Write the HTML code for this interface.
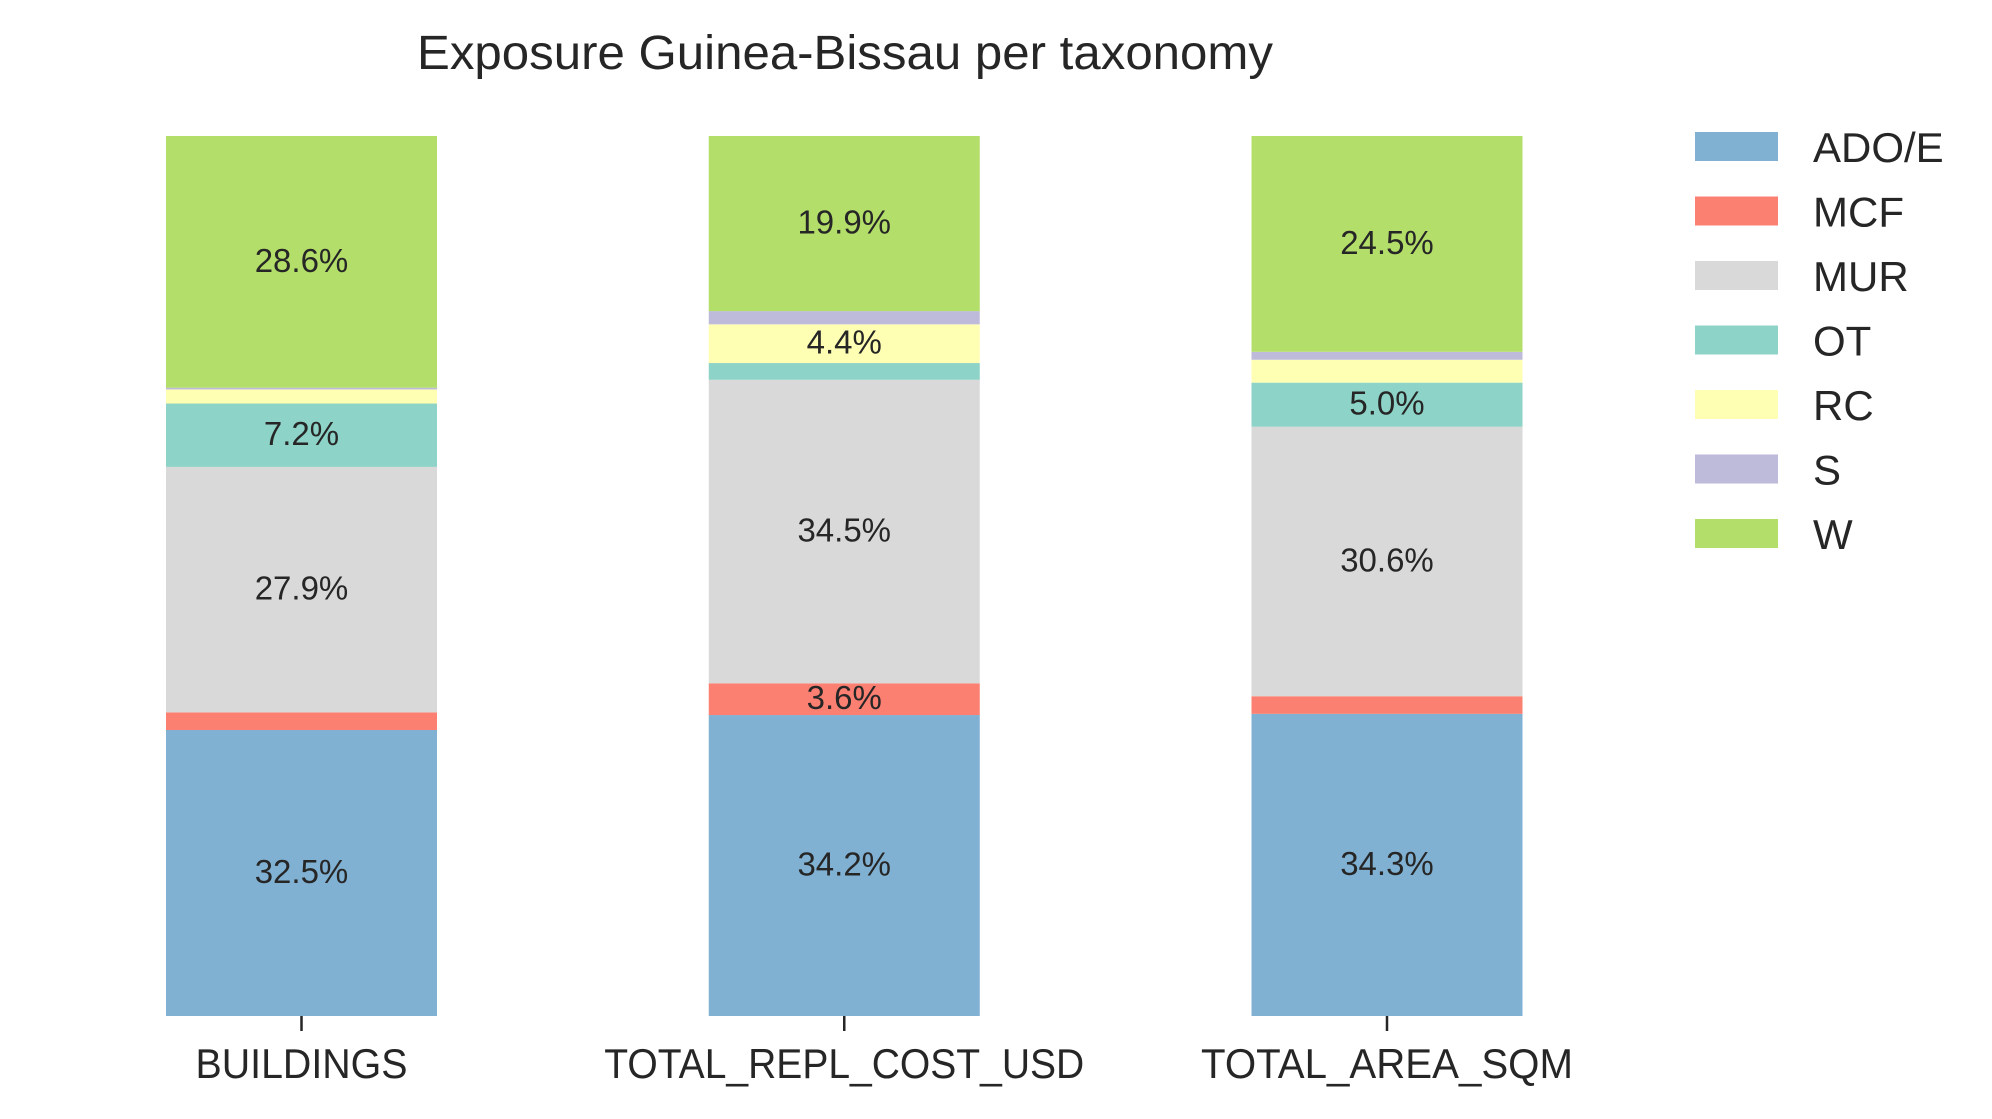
<!DOCTYPE html>
<html><head><meta charset="utf-8"><style>
html,body{margin:0;padding:0;background:#fff;}
svg{display:block;font-family:"Liberation Sans",sans-serif;}
</style></head><body>
<svg id="chart" width="1992" height="1119" viewBox="0 0 1992 1119">
<text x="845" y="69" font-size="48" fill="#262626" text-anchor="middle" textLength="856" lengthAdjust="spacingAndGlyphs">Exposure Guinea-Bissau per taxonomy</text>
<g id="bars"></g><g id="labels"></g><g id="xaxis"></g><g id="legend"></g>
</svg>
<script>
const categories = ["BUILDINGS", "TOTAL_REPL_COST_USD", "TOTAL_AREA_SQM"];
const seriesNames = ["ADO/E", "MCF", "MUR", "OT", "RC", "S", "W"];
const adoE = [32.5, 34.2, 34.3];
const mcf = [2.0, 3.6, 2.0];
const mur = [27.9, 34.5, 30.6];
const ot = [7.2, 1.9, 5.0];
const rc = [1.6, 4.4, 2.6];
const s = [0.2, 1.5, 0.9];
const w = [28.6, 19.9, 24.5];
const seriesValues = [adoE, mcf, mur, ot, rc, s, w];
const colors = ["#80b1d3", "#fb8072", "#d9d9d9", "#8dd3c7", "#ffffb3", "#bebada", "#b3de69"];
const tickLabelWidths = [212, 480, 372];

const NS = "http://www.w3.org/2000/svg";
const plotTop = 136, plotBottom = 1016;
const firstCenter = 301.5, step = 542.75, barW = 271;
function xCenter(i){ return firstCenter + i*step; }
function yScale(v){ return plotBottom - v/100*(plotBottom-plotTop); }
function mk(tag, attrs, parent){ const e=document.createElementNS(NS,tag); for(const k in attrs) e.setAttribute(k,attrs[k]); parent.appendChild(e); return e; }

const gBars=document.getElementById('bars'), gLab=document.getElementById('labels'), gX=document.getElementById('xaxis'), gL=document.getElementById('legend');
categories.forEach((cat,i)=>{
  let total=0; seriesValues.forEach(arr=>{ total+=arr[i]; });
  let cum=0;
  seriesValues.forEach((arr,j)=>{
    const v=arr[i];
    const y0=yScale(cum/total*100), y1=yScale((cum+v)/total*100);
    const r=mk('rect',{x:xCenter(i)-barW/2,y:y1,width:barW,height:y0-y1,fill:colors[j]},gBars);
    
    
    if(v>=3){
      const t=mk('text',{x:xCenter(i),y:(y0+y1)/2+10,'font-size':33,fill:'#262626','text-anchor':'middle'},gLab);
      t.textContent=v.toFixed(1)+'%';
      
      
    }
    cum+=v;
  });
  const tk=mk('line',{x1:xCenter(i),x2:xCenter(i),y1:plotBottom,y2:plotBottom+15,stroke:'#262626','stroke-width':2.5},gX);
  
  
  const tl=mk('text',{x:xCenter(i),y:1078,'font-size':42,fill:'#262626','text-anchor':'middle',textLength:tickLabelWidths[i],lengthAdjust:'spacingAndGlyphs'},gX);
  tl.textContent=cat;
  
  
});
seriesNames.forEach((n,j)=>{
  const y=132+j*64.5;
  const p=mk('rect',{x:1695,y:y,width:83,height:29,fill:colors[j]},gL);
  
  
  const t=mk('text',{x:1813,y:y+30,'font-size':42,fill:'#262626'},gL);
  t.textContent=n;
  
  
});
</script>
</body></html>
